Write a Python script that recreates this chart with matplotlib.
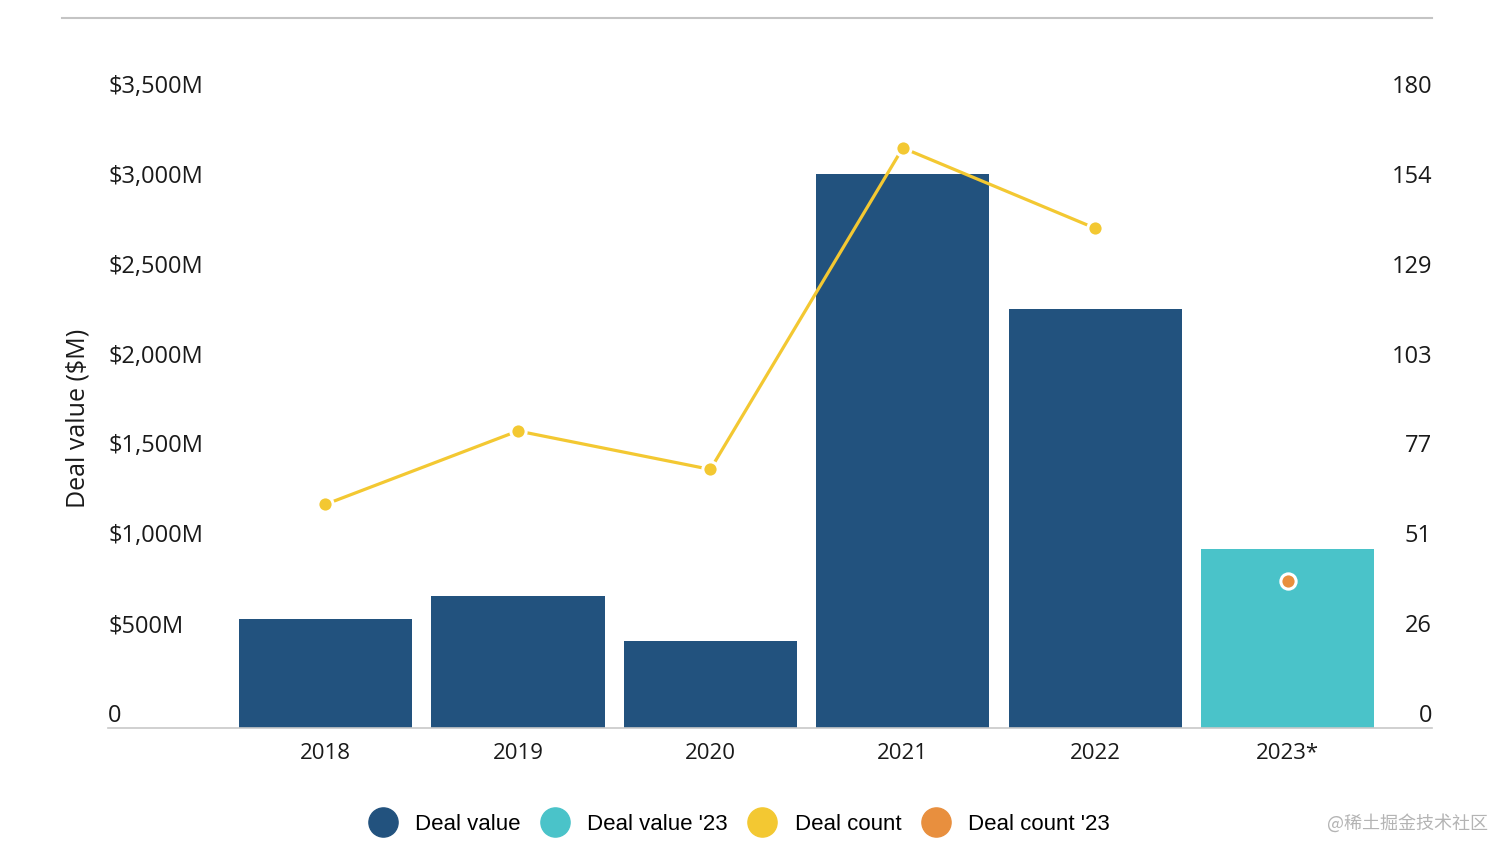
import numpy as np
import matplotlib.pyplot as plt
import matplotlib.transforms as mtransforms
from matplotlib.lines import Line2D

# data
years = ["2018", "2019", "2020", "2021", "2022", "2023*"]
deal_value = [606, 734, 484, 3081, 2330, 996]      # $M
deal_count = [64, 85, 74, 166, 143]                 # 2018-2022
deal_count_23 = [42]                                # 2023*
left_ticks = [0, 500, 1000, 1500, 2000, 2500, 3000, 3500]
left_labels = ["0", "$500M", "$1,000M", "$1,500M", "$2,000M", "$2,500M", "$3,000M", "$3,500M"]
right_labels = ["0", "26", "51", "77", "103", "129", "154", "180"]

dark_blue = "#22527e"
teal = "#4ac3c9"
yellow = "#f3c832"
orange = "#e88f3e"

W, H = 1512, 858
fig = plt.figure(figsize=(W / 100, H / 100), dpi=100)
ax = fig.add_axes([108 / W, (H - 728) / H, (1432 - 108) / W, (728 - 99) / H])

x = np.arange(len(years))
bar_colors = [dark_blue] * 5 + [teal]
ax.bar(x, deal_value, width=0.9, color=bar_colors, zorder=2)
ax.set_xlim(-1.13, 5.75)
ax.set_ylim(0, 3500)

for s in ["top", "right", "left"]:
    ax.spines[s].set_visible(False)
ax.spines["bottom"].set_color("#c8c8c8")
ax.spines["bottom"].set_linewidth(1.2)
ax.set_yticks([])
ax.set_xticks(x)
ax.set_xticklabels(years, fontsize=16, family="Open Sans", color="#1a1a1a")
ax.tick_params(axis="x", length=0, pad=11)

# y tick labels sit just above their tick position
up = mtransforms.offset_copy(ax.get_yaxis_transform(), fig=fig, x=0, y=0, units="dots")
for v, lab in zip(left_ticks, left_labels):
    ax.text(0, v, lab, transform=up, ha="left", va="bottom", fontsize=17,
            family="Open Sans", color="#1a1a1a")

ax2 = ax.twinx()
ax2.set_ylim(0, 180)
ax2.set_yticks([])
for s in ["top", "right", "left", "bottom"]:
    ax2.spines[s].set_visible(False)
up2 = mtransforms.offset_copy(ax2.get_yaxis_transform(), fig=fig, x=0, y=0, units="dots")
for k, lab in enumerate(right_labels):
    ax2.text(1, 180 * k / 7, lab, transform=up2, ha="right", va="bottom", fontsize=17,
             family="Open Sans", color="#1a1a1a")

ax2.plot(x[:5], deal_count, color=yellow, lw=2.3, marker="o", markersize=11,
         markerfacecolor=yellow, markeredgecolor="white", markeredgewidth=2.2, zorder=3)
ax2.plot(x[5:], deal_count_23, linestyle="none", marker="o", markersize=11,
         markerfacecolor=orange, markeredgecolor="white", markeredgewidth=2.2, zorder=3)

fig.text(78 / W, 1 - 418 / H, "Deal value ($M)", rotation=90, ha="center", va="center",
         fontsize=18, family="Open Sans", color="#1a1a1a")

# top rule
fig.add_artist(Line2D([62 / W, 1432 / W], [1 - 18 / H, 1 - 18 / H], color="#c4c4c4", lw=1.5))

handles = [Line2D([], [], linestyle="none", marker="o", markersize=21, color=c)
           for c in [dark_blue, teal, yellow, orange]]
fig.legend(handles, ["Deal value", "Deal value '23", "Deal count", "Deal count '23"],
           loc="center", bbox_to_anchor=(738 / W, 1 - 824 / H), ncol=4, frameon=False,
           prop={"family": "Liberation Sans", "size": 16}, handletextpad=0.7,
           columnspacing=0.8, handlelength=1.5)

fig.text(1488 / W, 1 - 823 / H, "@稀土掘金技术社区", ha="right", va="center", fontsize=13,
         family=["Noto Sans CJK SC", "DejaVu Sans"], color="#b4b4b4")

fig.savefig("out.png", dpi=100, facecolor="white")
